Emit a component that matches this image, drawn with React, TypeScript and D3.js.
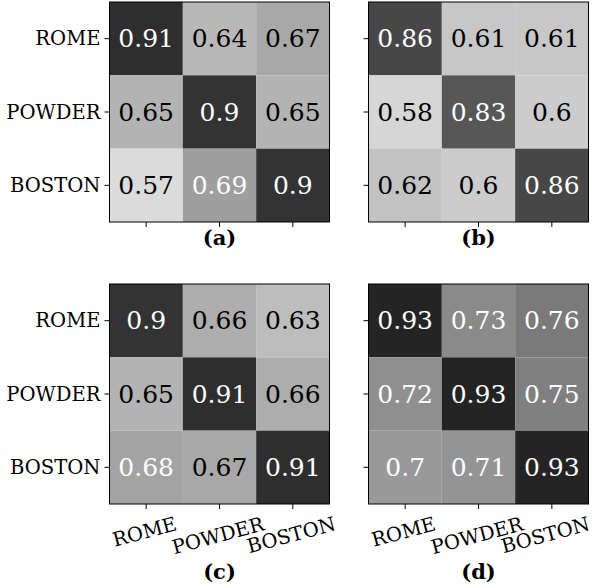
import React, { useEffect, useRef } from 'react';
import * as d3 from 'd3';

const cities = ['ROME', 'POWDER', 'BOSTON'];
const panelNames = ['(a)', '(b)', '(c)', '(d)'];

const valuesA = [
  [0.91, 0.64, 0.67],
  [0.65, 0.9, 0.65],
  [0.57, 0.69, 0.9],
];
const valuesB = [
  [0.86, 0.61, 0.61],
  [0.58, 0.83, 0.6],
  [0.62, 0.6, 0.86],
];
const valuesC = [
  [0.9, 0.66, 0.63],
  [0.65, 0.91, 0.66],
  [0.68, 0.67, 0.91],
];
const valuesD = [
  [0.93, 0.73, 0.76],
  [0.72, 0.93, 0.75],
  [0.7, 0.71, 0.93],
];

export default function App() {
  const ref = useRef<SVGSVGElement>(null);
  const width = 595;
  const height = 588;
  const size = 220;
  const font = "'DejaVu Serif', serif";

  useEffect(() => {
    document.body.style.margin = '0';
    const svg = d3.select(ref.current);
    svg.selectAll('*').remove();

    // gray_r with vmin 0.5, vmax 1
    const color = d3.scaleLinear<string>().domain([0.5, 1]).range(['#ffffff', '#000000']);

    const panels = [
      { data: valuesA, x0: 109.5, y0: 2, yLabels: true, xLabels: false, labelY: 245 },
      { data: valuesB, x0: 368.5, y0: 2, yLabels: false, xLabels: false, labelY: 245 },
      { data: valuesC, x0: 109.5, y0: 284, yLabels: true, xLabels: true, labelY: 579 },
      { data: valuesD, x0: 368.5, y0: 284, yLabels: false, xLabels: true, labelY: 579 },
    ];

    panels.forEach((p, pi) => {
      const x = d3.scaleBand().domain(cities).range([p.x0, p.x0 + size]);
      const y = d3.scaleBand().domain(cities).range([p.y0, p.y0 + size]);
      const g = svg.append('g');

      const cells = p.data.flatMap((row, ri) =>
        row.map((v, ci) => ({ v, row: cities[ri], col: cities[ci] }))
      );

      g.selectAll('rect.cell')
        .data(cells)
        .enter()
        .append('rect')
        .attr('class', 'cell')
        .attr('x', (d) => x(d.col)!)
        .attr('y', (d) => y(d.row)!)
        .attr('width', x.bandwidth())
        .attr('height', y.bandwidth())
        .attr('fill', (d) => color(d.v));

      g.selectAll('text.annot')
        .data(cells)
        .enter()
        .append('text')
        .attr('class', 'annot')
        .attr('x', (d) => x(d.col)! + x.bandwidth() / 2)
        .attr('y', (d) => y(d.row)! + y.bandwidth() / 2)
        .attr('text-anchor', 'middle')
        .attr('dominant-baseline', 'central')
        .attr('font-family', font)
        .attr('font-size', 25)
        .attr('fill', (d) => (d.v > 0.675 ? '#ffffff' : '#000000'))
        .text((d) => String(d.v));

      g.append('rect')
        .attr('x', p.x0)
        .attr('y', p.y0)
        .attr('width', size)
        .attr('height', size)
        .attr('fill', 'none')
        .attr('stroke', '#000')
        .attr('stroke-width', 1);

      // left ticks
      g.selectAll('line.ytick')
        .data(cities)
        .enter()
        .append('line')
        .attr('x1', p.x0 - 5)
        .attr('x2', p.x0)
        .attr('y1', (d) => y(d)! + y.bandwidth() / 2)
        .attr('y2', (d) => y(d)! + y.bandwidth() / 2)
        .attr('stroke', '#000');

      // bottom ticks
      g.selectAll('line.xtick')
        .data(cities)
        .enter()
        .append('line')
        .attr('y1', p.y0 + size)
        .attr('y2', p.y0 + size + 5)
        .attr('x1', (d) => x(d)! + x.bandwidth() / 2)
        .attr('x2', (d) => x(d)! + x.bandwidth() / 2)
        .attr('stroke', '#000');

      if (p.yLabels) {
        g.selectAll('text.ylab')
          .data(cities)
          .enter()
          .append('text')
          .attr('x', p.x0 - 9)
          .attr('y', (d) => y(d)! + y.bandwidth() / 2)
          .attr('text-anchor', 'end')
          .attr('dominant-baseline', 'central')
          .attr('font-family', font)
          .attr('font-size', 19.6)
          .text((d) => d);
      }

      if (p.xLabels) {
        const top = p.y0 + size + 9;
        const ang = 15;
        const rad = (ang * Math.PI) / 180;
        const labels = g
          .selectAll('text.xlab')
          .data(cities)
          .enter()
          .append('text')
          .attr('text-anchor', 'middle')
          .attr('dominant-baseline', 'central')
          .attr('font-family', font)
          .attr('font-size', 19.6)
          .text((d) => d);
        labels.each(function (d) {
          const el = this as SVGTextElement;
          const w = el.getComputedTextLength();
          const h = 22;
          const halfW = (w * Math.cos(rad) + h * Math.sin(rad)) / 2;
          const cx = Math.min(x(d)! + x.bandwidth() / 2 - 1.5, width - 3 - halfW);
          const cy = top + (w * Math.sin(rad) + h * Math.cos(rad)) / 2;
          d3.select(el)
            .attr('x', 0)
            .attr('y', 0)
            .attr('transform', `translate(${cx},${cy}) rotate(${-ang})`);
        });
      }

      svg
        .append('text')
        .attr('x', p.x0 + size / 2)
        .attr('y', p.labelY)
        .attr('text-anchor', 'middle')
        .attr('font-family', font)
        .attr('font-weight', 'bold')
        .attr('font-size', 21)
        .text(panelNames[pi]);
    });
  }, []);

  return <svg ref={ref} width={width} height={height} style={{ display: 'block', background: '#fff' }} />;
}
